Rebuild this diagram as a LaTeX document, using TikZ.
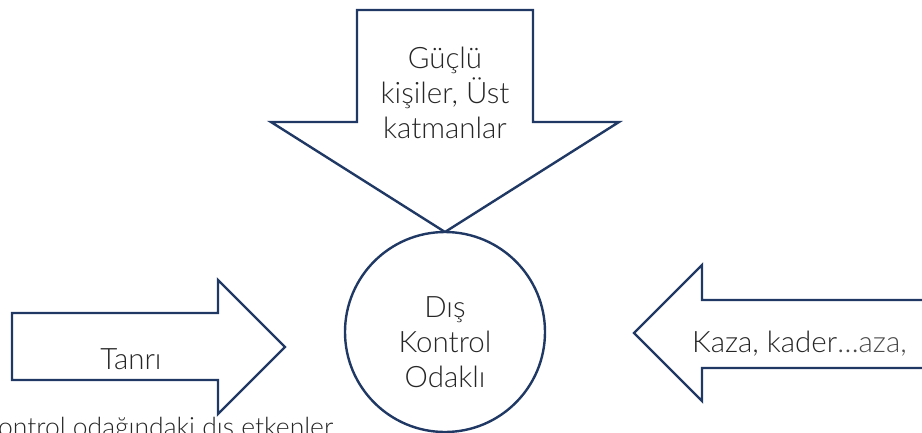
\documentclass[tikz,border=0pt]{standalone}
\usepackage{fontspec}
\setmainfont{Lato}[UprightFont={* Light}]
\definecolor{navy}{HTML}{1F3864}
\definecolor{ink}{HTML}{262626}
\definecolor{inkgray}{HTML}{4A4A4A}
\begin{document}
\begin{tikzpicture}[x=1pt,y=-1pt,
  shapeline/.style={draw=navy,line width=2.4pt,fill=white,line join=miter},
  lbl/.style={text=ink,font=\fontsize{29.5}{35}\selectfont,inner sep=0pt,align=center}]
\useasboundingbox (0,0) rectangle (922,432);
\clip (0,0) rectangle (922,432);
% down arrow
\draw[shapeline] (357,10) -- (533,10) -- (533,122) -- (619,122) -- (445,232)
  -- (271,122) -- (357,122) -- cycle;
% left arrow
\draw[shapeline] (12,313) -- (218,313) -- (218,280) -- (285,347) -- (218,414)
  -- (218,380) -- (12,380) -- cycle;
% right arrow
\draw[shapeline] (940,300) -- (702,300) -- (702,265) -- (634,333) -- (702,401)
  -- (702,368) -- (940,368);
% circle
\node[shapeline,circle,minimum size=200pt,inner sep=0pt] (c) at (445,332) {};
% texts (base anchor = baseline of the last line)
\node[lbl,anchor=base] (gtext) at (445,138) {Güçlü\\kişiler, Üst\\katmanlar};
\node[lbl,anchor=base] (ctext) at (445,387) {Dış\\Kontrol\\Odaklı};
\node[lbl,anchor=base] (ttext) at (131,369) {Tanrı};
\node[lbl,anchor=base west] (ktext) at (692,352) {Kaza, kader\textcolor{inkgray}{…aza,}};
\node[lbl,anchor=base west,font=\fontsize{26.5}{32}\selectfont] (btext) at (-2,436) {ontrol odağındaki dış etkenler};
\end{tikzpicture}
\end{document}
